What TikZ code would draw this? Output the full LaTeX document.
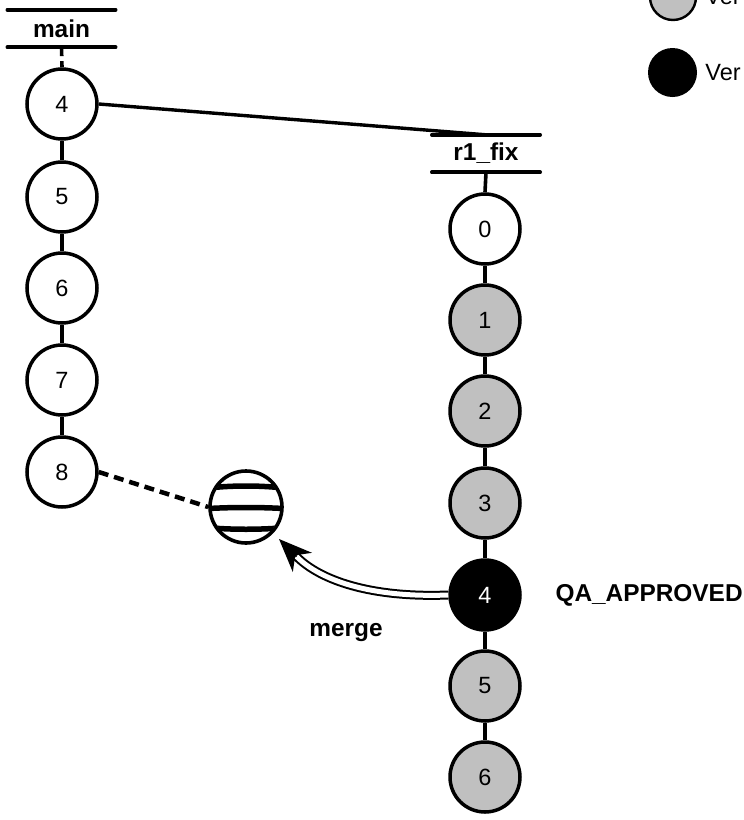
\documentclass[tikz,border=0pt]{standalone}
\usepackage{fontspec}
\setmainfont{Liberation Sans}
\usetikzlibrary{arrows.meta}
\definecolor{vgray}{HTML}{C0C0C0}
\begin{document}
\begin{tikzpicture}[x=1pt,y=-1pt,
  font=\fontsize{23.5}{27}\selectfont,
  ver/.style={circle, draw=black, line width=3.5pt, minimum size=70pt, inner sep=0pt, fill=white},
  vgrayc/.style={ver, fill=vgray},
  vblack/.style={ver, fill=black, text=white},
  link/.style={line width=3.6pt},
  branch/.style={font=\fontsize{24.4}{28}\selectfont\bfseries, minimum width=108pt, minimum height=37pt, inner sep=0pt},
  bar/.style={line width=3.6pt, line cap=round},
  tag/.style={font=\fontsize{24.4}{28}\selectfont\bfseries}
]
\useasboundingbox (0,0) rectangle (744,820);
\clip (0,0) rectangle (744,820);

% branch headers
\node[branch] (mainlbl) at (61.5,28.5) {main};
\draw[bar] (mainlbl.north west) -- (mainlbl.north east);
\draw[bar] (mainlbl.south west) -- (mainlbl.south east);

\node[branch] (fixlbl) at (486,153.5) {r1\_fix};
\draw[bar] (fixlbl.north west) -- (fixlbl.north east);
\draw[bar] (fixlbl.south west) -- (fixlbl.south east);

% main branch versions
\node[ver] (m4) at (62,104) {4};
\node[ver] (m5) at (62,197) {5};
\node[ver] (m6) at (62,288) {6};
\node[ver] (m7) at (62,380) {7};
\node[ver] (m8) at (62,472) {8};

% r1_fix branch versions
\node[ver]     (r0) at (485,229) {0};
\node[vgrayc]  (r1) at (485,320) {1};
\node[vgrayc]  (r2) at (485,411) {2};
\node[vgrayc]  (r3) at (485,503) {3};
\node[vblack]  (r4) at (485,595) {4};
\node[vgrayc]  (r5) at (485,686) {5};
\node[vgrayc]  (r6) at (485,777) {6};

% version links
\draw[link, dash pattern=on 9pt off 5pt] (mainlbl.south) -- (m4.north);
\draw[link] (m4) -- (m5);
\draw[link] (m5) -- (m6);
\draw[link] (m6) -- (m7);
\draw[link] (m7) -- (m8);
\draw[link] (fixlbl.south) -- (r0.north);
\draw[link] (r0) -- (r1);
\draw[link] (r1) -- (r2);
\draw[link] (r2) -- (r3);
\draw[link] (r3) -- (r4);
\draw[link] (r4) -- (r5);
\draw[link] (r5) -- (r6);

% branch point
\draw[line width=3.4pt] (m4.east) -- (fixlbl.north);

% pending merge result
\node[circle, draw=black, line width=3.6pt, minimum size=72pt, inner sep=0pt] (mball) at (246,507) {};
\begin{scope}
  \clip (mball.center) circle (34.5pt);
  \draw[line width=5.5pt] (200,489) .. controls (230,485) and (262,485) .. (292,489);
  \draw[line width=5.5pt] (200,509) .. controls (230,507) and (262,507) .. (292,509);
  \draw[line width=5.5pt] (200,527) .. controls (230,530) and (262,530) .. (292,527);
\end{scope}
\draw[line width=4.5pt, dash pattern=on 10pt off 6pt] (m8.east) -- (mball.west);

% merge arrow
\coordinate (mtip) at (279,539);
\draw[line width=2pt, -{Stealth[length=33pt, width=27pt, inset=10pt]}]
  (r4.west) .. controls (370,598) and (320,580) .. (mtip);
\draw[line width=2pt, double=white, double distance=5pt, shorten >=25pt]
  (r4.west) .. controls (370,598) and (320,580) .. (mtip);
\node[tag] (mergelbl) at (346,633) {merge};

\node[tag, anchor=west] (qa) at (552,595) {QA\_APPROVED};

% legend
\node[circle, draw=black, line width=2.4pt, fill=vgray, minimum size=46pt, inner sep=0pt] (lg1) at (673,-3) {};
\node[anchor=west, inner sep=0pt] (lg1t) at ([xshift=8pt]lg1.east) {Ver};
\node[circle, fill=black, minimum size=49pt, inner sep=0pt] (lg2) at (672.5,72.5) {};
\node[anchor=west, inner sep=0pt] (lg2t) at ([xshift=8pt]lg2.east) {Ver};
\end{tikzpicture}
\end{document}
